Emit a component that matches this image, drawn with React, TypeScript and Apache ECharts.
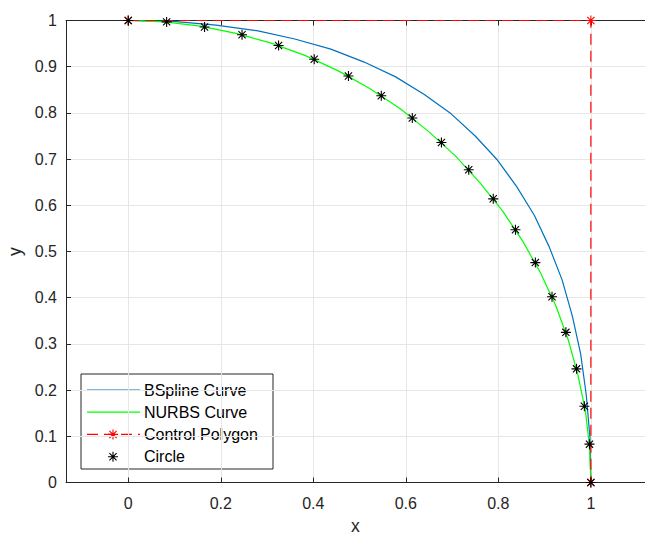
import React, { useEffect, useRef } from "react";
import * as echarts from "echarts";

// ---- data ----
const bsplineX = [0, 0.098, 0.19, 0.278, 0.36, 0.438, 0.51, 0.578, 0.64, 0.698, 0.75, 0.798, 0.84, 0.878, 0.91, 0.938, 0.96, 0.978, 0.99, 0.998, 1];
const bsplineY = [1, 0.998, 0.99, 0.978, 0.96, 0.938, 0.91, 0.878, 0.84, 0.798, 0.75, 0.698, 0.64, 0.578, 0.51, 0.438, 0.36, 0.278, 0.19, 0.098, 0];

const nurbsX = [0, 0.079, 0.156, 0.233, 0.309, 0.383, 0.454, 0.522, 0.588, 0.649, 0.707, 0.76, 0.809, 0.853, 0.891, 0.924, 0.951, 0.972, 0.988, 0.997, 1];
const nurbsY = [1, 0.997, 0.988, 0.972, 0.951, 0.924, 0.891, 0.853, 0.809, 0.76, 0.707, 0.649, 0.588, 0.522, 0.454, 0.383, 0.309, 0.233, 0.156, 0.079, 0];

const controlX = [0, 1, 1];
const controlY = [1, 1, 0];

const circleX = [0, 0.083, 0.165, 0.246, 0.325, 0.402, 0.476, 0.547, 0.614, 0.677, 0.736, 0.789, 0.837, 0.88, 0.916, 0.946, 0.969, 0.986, 0.997, 1];
const circleY = [1, 0.997, 0.986, 0.969, 0.946, 0.916, 0.88, 0.837, 0.789, 0.736, 0.677, 0.614, 0.547, 0.476, 0.402, 0.325, 0.246, 0.165, 0.083, 0];

const xTickValues = [0, 0.2, 0.4, 0.6, 0.8, 1];
const yTickValues = [0, 0.1, 0.2, 0.3, 0.4, 0.5, 0.6, 0.7, 0.8, 0.9, 1];

const seriesNames = ["BSpline Curve", "NURBS Curve", "Control Polygon", "Circle"];

const ASTERISK_D = "M0,-5L0,5M-5,0L5,0M-3.6,-3.6L3.6,3.6M-3.6,3.6L3.6,-3.6";
echarts.graphic.registerShape("asterisk", echarts.graphic.extendPath(ASTERISK_D, {}) as any);

const zip = (xs: number[], ys: number[]) => xs.map((x, i) => [x, ys[i]]);

const AX = "#262626";
const FONT = "Liberation Sans, Arial, Helvetica, sans-serif";

export default function App() {
  const ref = useRef<HTMLDivElement>(null);
  useEffect(() => {
    if (!ref.current) return;
    const chart = echarts.init(ref.current, undefined, { renderer: "svg" });
    const symbolPath = "path://" + ASTERISK_D;

    const legendTop = 374;
    const rowYs = [390, 412.2, 434.4, 456.7];
    const lx1 = 87, lx2 = 140, lmid = 113, tx = 144;
    const legendChildren: any[] = [
      { type: "rect", shape: { x: 81, y: legendTop, width: 192, height: 95 }, style: { fill: "#fff", stroke: AX, lineWidth: 1 } },
      { type: "line", shape: { x1: lx1, y1: rowYs[0], x2: lx2, y2: rowYs[0] }, style: { stroke: "#0072BD", lineWidth: 1.2 } },
      { type: "line", shape: { x1: lx1, y1: rowYs[1], x2: lx2, y2: rowYs[1] }, style: { stroke: "#00FF00", lineWidth: 1.2 } },
      { type: "line", shape: { x1: lx1, y1: rowYs[2], x2: lx2, y2: rowYs[2] }, style: { stroke: "#FF0000", lineWidth: 1.2, lineDash: [11, 6] } },
      { type: "asterisk", x: lmid, y: rowYs[2], style: { stroke: "#FF0000", lineWidth: 1.1, fill: "none" } },
      { type: "asterisk", x: lmid, y: rowYs[3], style: { stroke: "#000", lineWidth: 1.1, fill: "none" } },
    ];
    seriesNames.forEach((n, i) => {
      legendChildren.push({
        type: "text",
        x: tx,
        y: rowYs[i],
        style: { text: n, fill: "#000", font: `16px ${FONT}`, verticalAlign: "middle", align: "left" },
      });
    });

    const xCommon = {
      type: "value",
      min: -0.1345,
      max: 1.117,
      splitNumber: 6,
    };

    chart.setOption({
      animation: false,
      backgroundColor: "#fff",
      textStyle: { fontFamily: FONT },
      grid: { left: 66, top: 20.5, width: 579, height: 462, containLabel: false, outerBoundsMode: "none" },
      xAxis: [
        {
          ...xCommon,
          position: "bottom",
          name: "x",
          nameLocation: "middle",
          nameGap: 34,
          nameTextStyle: { color: AX, fontSize: 17.6, fontFamily: FONT },
          axisLine: { show: true, onZero: false, lineStyle: { color: AX, width: 1 } },
          axisTick: { show: true, inside: true, length: 5, lineStyle: { color: AX }, customValues: xTickValues },
          axisLabel: { color: AX, fontSize: 16, margin: 13, fontFamily: FONT, customValues: xTickValues },
          splitLine: { show: true, lineStyle: { color: "#e6e6e6", width: 1 } },
        },
        {
          ...xCommon,
          position: "top",
          axisLine: { show: true, onZero: false, lineStyle: { color: AX, width: 1 } },
          axisTick: { show: true, inside: true, length: 5, lineStyle: { color: AX }, customValues: xTickValues },
          axisLabel: { show: false },
          splitLine: { show: false },
        },
      ],
      yAxis: [
        {
          type: "value",
          min: 0,
          max: 1,
          interval: 0.1,
          position: "left",
          name: "y",
          nameLocation: "middle",
          nameGap: 40,
          nameRotate: 90,
          nameTextStyle: { color: AX, fontSize: 17.6, fontFamily: FONT },
          axisLine: { show: true, onZero: false, lineStyle: { color: AX, width: 1 } },
          axisTick: { show: true, inside: true, length: 5, lineStyle: { color: AX }, customValues: yTickValues },
          axisLabel: { color: AX, fontSize: 16, margin: 9, fontFamily: FONT, customValues: yTickValues },
          splitLine: { show: true, lineStyle: { color: "#e6e6e6", width: 1 } },
        },
      ],
      series: [
        {
          name: seriesNames[0],
          type: "line",
          data: zip(bsplineX, bsplineY),
          showSymbol: false,
          symbol: "none",
          clip: false,
          lineStyle: { color: "#0072BD", width: 1.2 },
          z: 2,
        },
        {
          name: seriesNames[1],
          type: "line",
          data: zip(nurbsX, nurbsY),
          showSymbol: false,
          symbol: "none",
          clip: false,
          lineStyle: { color: "#00FF00", width: 1.2 },
          z: 3,
        },
        {
          name: seriesNames[2],
          type: "line",
          data: zip(controlX, controlY),
          symbol: symbolPath,
          symbolSize: 10,
          showAllSymbol: true,
          clip: false,
          lineStyle: { color: "#FF0000", width: 1.2, type: [11, 6] },
          itemStyle: { color: "#FF0000", borderColor: "#FF0000", borderWidth: 1.1 },
          z: 4,
        },
        {
          name: seriesNames[3],
          type: "scatter",
          data: zip(circleX, circleY),
          symbol: symbolPath,
          symbolSize: 10,
          clip: false,
          itemStyle: { color: "#000", borderColor: "#000", borderWidth: 1.1, opacity: 1 },
          z: 5,
        },
      ],
      graphic: [{ type: "group", z: 100, children: legendChildren }],
    });
    return () => chart.dispose();
  }, []);
  return (
    <div
      ref={ref}
      style={{ position: "absolute", left: 0, top: 0, width: 645, height: 534, background: "#fff" }}
    />
  );
}
